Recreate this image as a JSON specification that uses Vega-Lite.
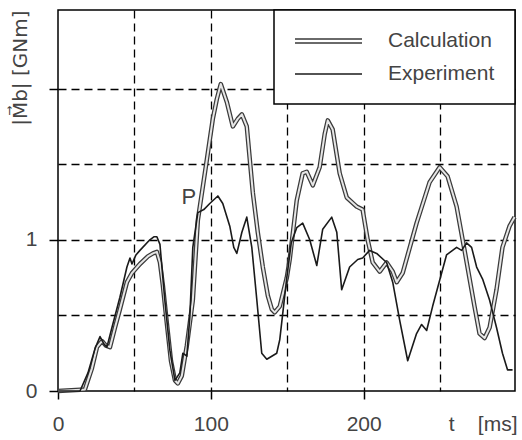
{
  "$schema": "https://vega.github.io/schema/vega-lite/v6.json",
  "width": 457,
  "height": 381,
  "autosize": {"type": "none"},
  "padding": {"left": 58, "top": 10, "right": 7, "bottom": 49},
  "background": "white",
  "config": {"view": {"stroke": "black", "strokeWidth": 1.5}, "font": "Liberation Sans"},
  "datasets": {
    "curves": [
      {"t": 0, "v": 0, "series": "Calculation"},
      {"t": 17.6, "v": 0.01, "series": "Calculation"},
      {"t": 22.2, "v": 0.15, "series": "Calculation"},
      {"t": 25.5, "v": 0.29, "series": "Calculation"},
      {"t": 28.8, "v": 0.33, "series": "Calculation"},
      {"t": 31.4, "v": 0.3, "series": "Calculation"},
      {"t": 34, "v": 0.29, "series": "Calculation"},
      {"t": 37.3, "v": 0.42, "series": "Calculation"},
      {"t": 40.5, "v": 0.54, "series": "Calculation"},
      {"t": 45.1, "v": 0.72, "series": "Calculation"},
      {"t": 48.4, "v": 0.78, "series": "Calculation"},
      {"t": 53.6, "v": 0.84, "series": "Calculation"},
      {"t": 58.8, "v": 0.89, "series": "Calculation"},
      {"t": 62.1, "v": 0.91, "series": "Calculation"},
      {"t": 64.7, "v": 0.92, "series": "Calculation"},
      {"t": 66.7, "v": 0.85, "series": "Calculation"},
      {"t": 68.6, "v": 0.7, "series": "Calculation"},
      {"t": 71.2, "v": 0.45, "series": "Calculation"},
      {"t": 73.9, "v": 0.2, "series": "Calculation"},
      {"t": 76.5, "v": 0.07, "series": "Calculation"},
      {"t": 78.4, "v": 0.05, "series": "Calculation"},
      {"t": 81, "v": 0.1, "series": "Calculation"},
      {"t": 84.3, "v": 0.3, "series": "Calculation"},
      {"t": 88.2, "v": 0.6, "series": "Calculation"},
      {"t": 91.5, "v": 1.13, "series": "Calculation"},
      {"t": 97.4, "v": 1.53, "series": "Calculation"},
      {"t": 101.3, "v": 1.8, "series": "Calculation"},
      {"t": 103.9, "v": 1.93, "series": "Calculation"},
      {"t": 106.5, "v": 2.03, "series": "Calculation"},
      {"t": 110.5, "v": 1.91, "series": "Calculation"},
      {"t": 114.4, "v": 1.75, "series": "Calculation"},
      {"t": 117.6, "v": 1.8, "series": "Calculation"},
      {"t": 120.3, "v": 1.83, "series": "Calculation"},
      {"t": 123.5, "v": 1.75, "series": "Calculation"},
      {"t": 127.5, "v": 1.31, "series": "Calculation"},
      {"t": 130.7, "v": 1.05, "series": "Calculation"},
      {"t": 134, "v": 0.82, "series": "Calculation"},
      {"t": 137.3, "v": 0.63, "series": "Calculation"},
      {"t": 139.9, "v": 0.54, "series": "Calculation"},
      {"t": 141.8, "v": 0.52, "series": "Calculation"},
      {"t": 145.1, "v": 0.56, "series": "Calculation"},
      {"t": 149.7, "v": 0.75, "series": "Calculation"},
      {"t": 151.6, "v": 0.87, "series": "Calculation"},
      {"t": 156.2, "v": 1.26, "series": "Calculation"},
      {"t": 160.1, "v": 1.44, "series": "Calculation"},
      {"t": 162.7, "v": 1.45, "series": "Calculation"},
      {"t": 166.7, "v": 1.36, "series": "Calculation"},
      {"t": 171.2, "v": 1.48, "series": "Calculation"},
      {"t": 174.5, "v": 1.7, "series": "Calculation"},
      {"t": 176.5, "v": 1.79, "series": "Calculation"},
      {"t": 179.7, "v": 1.73, "series": "Calculation"},
      {"t": 184.3, "v": 1.44, "series": "Calculation"},
      {"t": 188.9, "v": 1.28, "series": "Calculation"},
      {"t": 195.4, "v": 1.22, "series": "Calculation"},
      {"t": 199.3, "v": 1.2, "series": "Calculation"},
      {"t": 202.6, "v": 1.0, "series": "Calculation"},
      {"t": 205.9, "v": 0.85, "series": "Calculation"},
      {"t": 210.5, "v": 0.79, "series": "Calculation"},
      {"t": 215, "v": 0.85, "series": "Calculation"},
      {"t": 219, "v": 0.79, "series": "Calculation"},
      {"t": 221.6, "v": 0.72, "series": "Calculation"},
      {"t": 225.5, "v": 0.78, "series": "Calculation"},
      {"t": 234.6, "v": 1.11, "series": "Calculation"},
      {"t": 243.1, "v": 1.38, "series": "Calculation"},
      {"t": 249.7, "v": 1.48, "series": "Calculation"},
      {"t": 254.9, "v": 1.42, "series": "Calculation"},
      {"t": 260.8, "v": 1.22, "series": "Calculation"},
      {"t": 266, "v": 0.93, "series": "Calculation"},
      {"t": 272.5, "v": 0.56, "series": "Calculation"},
      {"t": 275.8, "v": 0.38, "series": "Calculation"},
      {"t": 279.1, "v": 0.35, "series": "Calculation"},
      {"t": 282.4, "v": 0.42, "series": "Calculation"},
      {"t": 286.9, "v": 0.67, "series": "Calculation"},
      {"t": 290.8, "v": 0.95, "series": "Calculation"},
      {"t": 295.4, "v": 1.09, "series": "Calculation"},
      {"t": 298.7, "v": 1.15, "series": "Calculation"},
      {"t": 0, "v": 0, "series": "Experiment"},
      {"t": 14.4, "v": 0, "series": "Experiment"},
      {"t": 19.6, "v": 0.12, "series": "Experiment"},
      {"t": 24.2, "v": 0.28, "series": "Experiment"},
      {"t": 27.5, "v": 0.36, "series": "Experiment"},
      {"t": 30.1, "v": 0.31, "series": "Experiment"},
      {"t": 32, "v": 0.29, "series": "Experiment"},
      {"t": 35.3, "v": 0.42, "series": "Experiment"},
      {"t": 40.5, "v": 0.62, "series": "Experiment"},
      {"t": 45.1, "v": 0.82, "series": "Experiment"},
      {"t": 47.1, "v": 0.88, "series": "Experiment"},
      {"t": 48.4, "v": 0.84, "series": "Experiment"},
      {"t": 51, "v": 0.9, "series": "Experiment"},
      {"t": 53.6, "v": 0.93, "series": "Experiment"},
      {"t": 60.1, "v": 1.0, "series": "Experiment"},
      {"t": 62.7, "v": 1.02, "series": "Experiment"},
      {"t": 64.7, "v": 1.02, "series": "Experiment"},
      {"t": 66.7, "v": 0.97, "series": "Experiment"},
      {"t": 69.9, "v": 0.6, "series": "Experiment"},
      {"t": 73.2, "v": 0.27, "series": "Experiment"},
      {"t": 76.5, "v": 0.07, "series": "Experiment"},
      {"t": 79.7, "v": 0.12, "series": "Experiment"},
      {"t": 81.7, "v": 0.25, "series": "Experiment"},
      {"t": 84.3, "v": 0.23, "series": "Experiment"},
      {"t": 86.3, "v": 0.5, "series": "Experiment"},
      {"t": 88.2, "v": 0.95, "series": "Experiment"},
      {"t": 91.5, "v": 1.18, "series": "Experiment"},
      {"t": 95.4, "v": 1.2, "series": "Experiment"},
      {"t": 99.3, "v": 1.24, "series": "Experiment"},
      {"t": 104.6, "v": 1.29, "series": "Experiment"},
      {"t": 107.8, "v": 1.24, "series": "Experiment"},
      {"t": 112.4, "v": 1.09, "series": "Experiment"},
      {"t": 115, "v": 0.95, "series": "Experiment"},
      {"t": 117, "v": 0.91, "series": "Experiment"},
      {"t": 120.3, "v": 1.05, "series": "Experiment"},
      {"t": 123.5, "v": 1.15, "series": "Experiment"},
      {"t": 126.8, "v": 0.95, "series": "Experiment"},
      {"t": 130.1, "v": 0.6, "series": "Experiment"},
      {"t": 133.3, "v": 0.25, "series": "Experiment"},
      {"t": 136.6, "v": 0.21, "series": "Experiment"},
      {"t": 143.1, "v": 0.25, "series": "Experiment"},
      {"t": 145.1, "v": 0.34, "series": "Experiment"},
      {"t": 149.7, "v": 0.75, "series": "Experiment"},
      {"t": 152.6, "v": 0.98, "series": "Experiment"},
      {"t": 156.2, "v": 1.08, "series": "Experiment"},
      {"t": 160.1, "v": 1.11, "series": "Experiment"},
      {"t": 164.7, "v": 1.0, "series": "Experiment"},
      {"t": 169.3, "v": 0.83, "series": "Experiment"},
      {"t": 173.2, "v": 1.07, "series": "Experiment"},
      {"t": 179.1, "v": 1.15, "series": "Experiment"},
      {"t": 182.4, "v": 1.05, "series": "Experiment"},
      {"t": 185.6, "v": 0.67, "series": "Experiment"},
      {"t": 190.8, "v": 0.82, "series": "Experiment"},
      {"t": 196.1, "v": 0.87, "series": "Experiment"},
      {"t": 199.3, "v": 0.88, "series": "Experiment"},
      {"t": 203.9, "v": 0.93, "series": "Experiment"},
      {"t": 208.5, "v": 0.91, "series": "Experiment"},
      {"t": 215, "v": 0.85, "series": "Experiment"},
      {"t": 219, "v": 0.72, "series": "Experiment"},
      {"t": 223.5, "v": 0.47, "series": "Experiment"},
      {"t": 228.8, "v": 0.2, "series": "Experiment"},
      {"t": 234.6, "v": 0.38, "series": "Experiment"},
      {"t": 237.9, "v": 0.44, "series": "Experiment"},
      {"t": 241.2, "v": 0.4, "series": "Experiment"},
      {"t": 245.1, "v": 0.56, "series": "Experiment"},
      {"t": 251, "v": 0.78, "series": "Experiment"},
      {"t": 254.2, "v": 0.9, "series": "Experiment"},
      {"t": 260.8, "v": 0.95, "series": "Experiment"},
      {"t": 264.1, "v": 0.93, "series": "Experiment"},
      {"t": 267.3, "v": 0.98, "series": "Experiment"},
      {"t": 270.6, "v": 0.95, "series": "Experiment"},
      {"t": 273.9, "v": 0.82, "series": "Experiment"},
      {"t": 277.8, "v": 0.74, "series": "Experiment"},
      {"t": 282.4, "v": 0.6, "series": "Experiment"},
      {"t": 286.9, "v": 0.42, "series": "Experiment"},
      {"t": 290.8, "v": 0.25, "series": "Experiment"},
      {"t": 294.1, "v": 0.14, "series": "Experiment"},
      {"t": 297.4, "v": 0.14, "series": "Experiment"}
    ],
    "notes": [{"t": 85.6, "v": 1.28, "label": "P"}]
  },
  "layer": [
    {
      "data": {"name": "curves"},
      "transform": [{"filter": "datum.series === 'Calculation'"}],
      "mark": {"type": "line", "strokeWidth": 4.5, "strokeJoin": "round"},
      "encoding": {
        "x": {
          "field": "t", "type": "quantitative",
          "scale": {"domain": [0, 299], "nice": false},
          "axis": {
            "values": [0, 50, 100, 150, 200, 250],
            "labelExpr": "datum.value % 100 === 0 ? datum.label : ''",
            "labelFlush": false,
            "tickOpacity": {"condition": {"test": "datum.value % 100 === 0", "value": 1}, "value": 0},
            "grid": true, "gridColor": "black", "gridDash": [8, 5], "gridWidth": 1.3,
            "gridOpacity": {"condition": {"test": "datum.value === 0", "value": 0}, "value": 1},
            "domain": false, "tickColor": "black", "tickSize": 8, "tickWidth": 1.5,
            "labelFontSize": 21, "labelColor": "#444", "labelPadding": 14,
            "title": "t\u00a0\u00a0\u00a0\u00a0[ms]", "titleX": 459, "titleY": 33,
            "titleAlign": "right", "titleBaseline": "middle", "titleFontSize": 21,
            "titleFontWeight": "normal", "titleColor": "#444"
          }
        },
        "y": {
          "field": "v", "type": "quantitative",
          "scale": {"domain": [0, 2.52], "nice": false},
          "axis": {
            "values": [0, 0.5, 1, 1.5, 2],
            "labelExpr": "datum.value === 0 ? '0' : datum.value === 1 ? '1' : ''",
            "labelFlush": false,
            "tickOpacity": {"condition": {"test": "datum.value % 1 === 0", "value": 1}, "value": 0},
            "grid": true, "gridColor": "black", "gridDash": [8, 5], "gridWidth": 1.3,
            "gridOpacity": {"condition": {"test": "datum.value === 0", "value": 0}, "value": 1},
            "domain": false, "tickColor": "black", "tickSize": 9, "tickWidth": 1.5,
            "labelFontSize": 21, "labelColor": "#444", "labelPadding": 12,
            "title": "|M\u20d7b| [GNm]", "titleX": -38, "titleY": 0, "titleAngle": -90,
            "titleAlign": "right", "titleBaseline": "middle", "titleFontSize": 20,
            "titleFont": "DejaVu Sans",
            "titleFontWeight": "normal", "titleColor": "#444"
          }
        },
        "stroke": {
          "field": "series", "type": "nominal",
          "scale": {"domain": ["Calculation", "Experiment"], "range": ["#3a3a3a", "#1a1a1a"]},
          "legend": {
            "orient": "top-right", "offset": 0, "title": null,
            "fillColor": "white", "strokeColor": "black",
            "padding": 20, "symbolType": "stroke", "symbolSize": 400, "symbolStrokeWidth": 1.5,
            "labelFontSize": 21, "labelColor": "#444", "labelOffset": 72, "rowPadding": 12,
            "labelFont": "Liberation Sans",
            "encode": {
              "legend": {"update": {"strokeWidth": {"value": 1.5}}},
              "symbols": {"update": {"shape": {"signal": "datum.value === 'Calculation' ? 'M-1,-0.2H5.7M-1,0.2H5.7' : 'M-1,0H5.7'"}}}
            }
          }
        }
      }
    },
    {
      "data": {"name": "curves"},
      "transform": [{"filter": "datum.series === 'Calculation'"}],
      "mark": {"type": "line", "strokeWidth": 2, "strokeJoin": "round", "color": "#e6e6e6"},
      "encoding": {
        "x": {"field": "t", "type": "quantitative"},
        "y": {"field": "v", "type": "quantitative"}
      }
    },
    {
      "data": {"name": "curves"},
      "transform": [{"filter": "datum.series === 'Experiment'"}],
      "mark": {"type": "line", "strokeWidth": 1.6, "strokeJoin": "round"},
      "encoding": {
        "x": {"field": "t", "type": "quantitative"},
        "y": {"field": "v", "type": "quantitative"},
        "stroke": {"field": "series", "type": "nominal"}
      }
    },
    {
      "data": {"name": "notes"},
      "mark": {"type": "text", "fontSize": 22, "color": "#444", "font": "Liberation Sans"},
      "encoding": {
        "x": {"field": "t", "type": "quantitative"},
        "y": {"field": "v", "type": "quantitative"},
        "text": {"field": "label"}
      }
    }
  ]
}
